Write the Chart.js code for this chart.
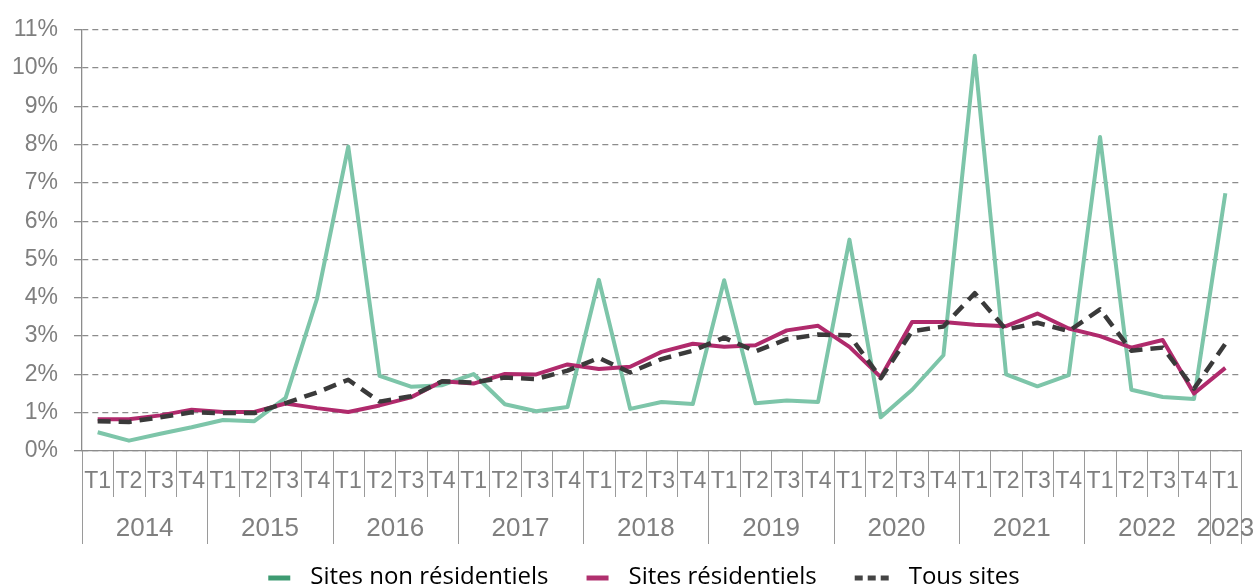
<!DOCTYPE html>
<html><head><meta charset="utf-8">
<script src="https://cdn.jsdelivr.net/npm/chart.js@4/dist/chart.umd.min.js"></script>
<style>html,body{margin:0;padding:0;background:#fff;}canvas{display:block;}</style>
</head><body>
<canvas id="c" width="1259" height="587"></canvas>
<script>
const quarters = ['T1','T2','T3','T4','T1','T2','T3','T4','T1','T2','T3','T4','T1','T2','T3','T4','T1','T2','T3','T4','T1','T2','T3','T4','T1','T2','T3','T4','T1','T2','T3','T4','T1','T2','T3','T4','T1'];
const years = ['2014','2015','2016','2017','2018','2019','2020','2021','2022','2023'];
const quartersPerYear = [4,4,4,4,4,4,4,4,4,1];
const yTickLabels = ['0%','1%','2%','3%','4%','5%','6%','7%','8%','9%','10%','11%'];
const seriesNames = ['Sites non résidentiels','Sites résidentiels','Tous sites'];
const nonResidentiels = [0.49,0.27,0.45,0.62,0.81,0.78,1.39,3.97,7.95,1.96,1.68,1.72,2.01,1.22,1.04,1.15,4.47,1.10,1.28,1.23,4.46,1.25,1.32,1.28,5.52,0.88,1.60,2.50,10.32,2.00,1.69,1.98,8.20,1.60,1.41,1.36,6.73];
const residentiels = [0.83,0.83,0.93,1.08,1.02,1.02,1.24,1.12,1.02,1.19,1.40,1.82,1.76,2.01,2.00,2.26,2.14,2.20,2.59,2.80,2.72,2.76,3.15,3.27,2.72,1.93,3.37,3.37,3.30,3.26,3.59,3.20,3.00,2.70,2.90,1.50,2.17];
const tousSites = [0.78,0.76,0.88,1.01,0.99,0.99,1.25,1.53,1.86,1.29,1.43,1.82,1.79,1.92,1.88,2.10,2.43,2.05,2.40,2.62,2.96,2.60,2.92,3.04,3.02,1.90,3.13,3.25,4.12,3.17,3.35,3.13,3.70,2.62,2.70,1.63,2.80];

const GREEN = '#7dc5a9', MAGENTA = '#b02a6c', DARK = '#3a3a3a';
const GRAY = '#7f7f7f';

const groupPlugin = {
  id: 'groups',
  afterDraw(chart) {
    const {ctx, chartArea} = chart;
    const x = chart.scales.x;
    const y0 = chartArea.bottom;
    const n = quarters.length;
    const bounds = new Set([0]);
    let acc = 0;
    quartersPerYear.forEach(c => { acc += c; bounds.add(acc); });
    ctx.save();
    ctx.strokeStyle = '#9a9a9a';
    ctx.lineWidth = 1;
    for (let k = 0; k <= n; k++) {
      const px = Math.round(x.getPixelForValue(k - 0.5)) + 0.5;
      const long = bounds.has(k);
      ctx.beginPath();
      ctx.moveTo(px, y0);
      ctx.lineTo(px, y0 + (long ? 93 : 46));
      ctx.stroke();
    }
    ctx.fillStyle = GRAY;
    ctx.font = '26px "Liberation Sans"';
    ctx.textAlign = 'center';
    ctx.textBaseline = 'middle';
    let start = 0;
    years.forEach((yr, i) => {
      const c = quartersPerYear[i];
      const mid = (x.getPixelForValue(start) + x.getPixelForValue(start + c - 1)) / 2;
      ctx.fillText(yr, mid, y0 + 78);
      start += c;
    });
    ctx.restore();
  }
};

const legendPlugin = {
  id: 'customLegend',
  afterDraw(chart) {
    const {ctx} = chart;
    const items = [
      {text: seriesNames[0], color: '#3e9b72', dash: [], w: 22},
      {text: seriesNames[1], color: '#b0306e', dash: [], w: 22},
      {text: seriesNames[2], color: '#444444', dash: [8, 5], w: 34}
    ];
    ctx.save();
    ctx.font = '24px "Open Sans"';
    const gapBox = 20, gapItem = 38;
    let total = 0;
    items.forEach((it, i) => {
      it.tw = ctx.measureText(it.text).width;
      total += it.w + gapBox + it.tw + (i < items.length - 1 ? gapItem : 0);
    });
    let cx = 644 - total / 2;
    const cy = 577;
    items.forEach(it => {
      ctx.strokeStyle = it.color;
      ctx.lineWidth = 5;
      ctx.lineCap = 'butt';
      ctx.setLineDash(it.dash);
      ctx.beginPath();
      ctx.moveTo(cx, cy + 1);
      ctx.lineTo(cx + it.w, cy + 1);
      ctx.stroke();
      ctx.setLineDash([]);
      ctx.fillStyle = '#000';
      ctx.textAlign = 'left';
      ctx.textBaseline = 'middle';
      ctx.fillText(it.text, cx + it.w + gapBox, cy);
      cx += it.w + gapBox + it.tw + gapItem;
    });
    ctx.restore();
  }
};

Chart.defaults.font.family = '"Liberation Sans", Arial, sans-serif';

new Chart(document.getElementById('c'), {
  type: 'line',
  data: {
    labels: quarters,
    datasets: [
      {label: seriesNames[0], data: nonResidentiels, borderColor: GREEN, backgroundColor: GREEN, borderWidth: 4, borderJoinStyle: 'round', pointRadius: 0, tension: 0, order: 2},
      {label: seriesNames[1], data: residentiels, borderColor: MAGENTA, backgroundColor: MAGENTA, borderWidth: 4, borderJoinStyle: 'round', pointRadius: 0, tension: 0, order: 1},
      {label: seriesNames[2], data: tousSites, borderColor: DARK, backgroundColor: DARK, borderWidth: 4.5, borderDash: [13, 8], borderJoinStyle: 'round', pointRadius: 0, tension: 0, order: 0}
    ]
  },
  options: {
    responsive: false,
    animation: false,
    devicePixelRatio: 1,
    layout: {padding: {left: 0, right: 18, top: 26, bottom: 0}},
    plugins: {legend: {display: false}, tooltip: {enabled: false}},
    scales: {
      x: {
        offset: true,
        grid: {display: false, drawTicks: false},
        border: {display: true, color: '#8c8c8c', width: 1.3},
        ticks: {color: GRAY, font: {size: 23}, padding: 17, autoSkip: false, maxRotation: 0, minRotation: 0},
        afterFit(s) { s.height = 136; }
      },
      y: {
        min: 0, max: 11,
        grid: {color: '#8c8c8c', lineWidth: 1.3, tickLength: 8, tickBorderDash: [], drawTicks: true},
        border: {display: true, color: '#8c8c8c', width: 1.3, dash: [6, 4]},
        ticks: {stepSize: 1, color: GRAY, font: {size: 23}, padding: 16, callback: (v) => yTickLabels[v]},
        afterFit(s) { s.width = 82; }
      }
    }
  },
  plugins: [groupPlugin, legendPlugin]
});
</script>
</body></html>
